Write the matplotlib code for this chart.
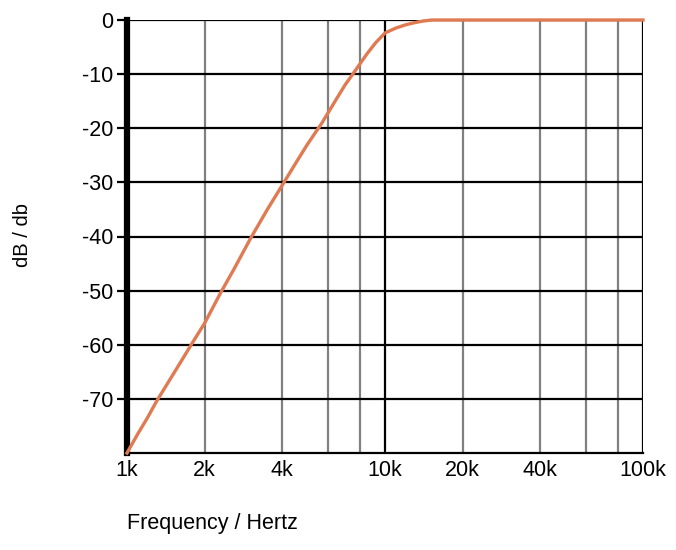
import numpy as np
import matplotlib
matplotlib.use("Agg")
import matplotlib.pyplot as plt

plt.rcParams['font.family'] = ['Liberation Sans', 'DejaVu Sans']

# response (Hz, dB)
freq = [1000, 1100, 1200, 1300, 1400, 1600, 1800, 2000, 2300, 2600, 3000,
        3500, 4000, 4500, 5000, 5700, 6500, 7000, 7500, 8500, 9200, 10000,
        11000, 12000, 13000, 14000, 15200, 100000]
gain = [-80, -76.5, -73.5, -70.5, -68, -63.5, -59.5, -56, -50.5, -46, -40.5,
        -35, -30.5, -26.5, -23, -19, -14.5, -12, -10, -6.3, -4.2, -2.4,
        -1.5, -0.9, -0.5, -0.2, 0, 0]

xticks = [1000, 2000, 4000, 10000, 20000, 40000, 100000]
xticklabels = ['1k', '2k', '4k', '10k', '20k', '40k', '100k']
minor_lines = [2000, 4000, 6000, 8000, 20000, 40000, 60000, 80000]
major_lines = [10000, 100000]
yticks = [-70, -60, -50, -40, -30, -20, -10, 0]

fig = plt.figure(figsize=(6.76, 5.5), dpi=100)
ax = fig.add_axes([127/676, 1-453/550, (643-127)/676, (453-20)/550])

for f in minor_lines:
    ax.axvline(f, color='#808080', lw=1.6, zorder=1)
for f in major_lines:
    ax.axvline(f, color='black', lw=1.6, zorder=1)
for g in yticks:
    ax.axhline(g, color='black', lw=1.6, zorder=1)

ax.plot(freq, gain, color='#E07A52', lw=2.4, zorder=3, clip_on=False)

ax.set_xscale('log')
ax.set_xlim(1000, 100000)
ax.set_ylim(-80, 0)
ax.set_xticks(xticks)
ax.set_xticklabels(xticklabels)
ax.xaxis.set_minor_locator(matplotlib.ticker.NullLocator())
ax.set_yticks(yticks)
ax.set_yticklabels([str(v) for v in yticks])
ax.tick_params(axis='x', length=0, pad=5, labelsize=15.5)
ax.tick_params(axis='y', length=7, width=1.6, pad=3, labelsize=15.5)

for s in ['top', 'right']:
    ax.spines[s].set_visible(False)
ax.spines['bottom'].set_linewidth(1.6)
ax.spines['left'].set_linewidth(4.5)

fig.text(23/676, 1-235/550, 'dB / db', fontsize=14.5, rotation=90,
         ha='center', va='center')
fig.text(127/676, 1-524/550, 'Frequency / Hertz', fontsize=15.5,
         ha='left', va='center')

fig.savefig('out.png', dpi=100)
